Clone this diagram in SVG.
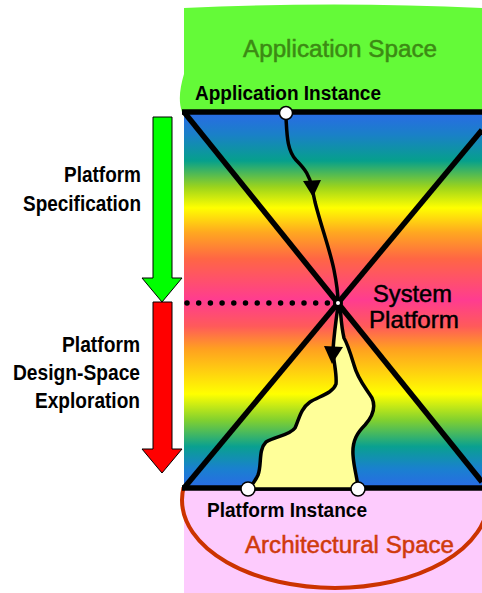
<svg xmlns="http://www.w3.org/2000/svg" width="482" height="593" viewBox="0 0 482 593">
  <style>
    .lbl { font-family: "Liberation Sans", Arial, sans-serif; }
    .b { font-weight: bold; fill: #000; }
    .med { stroke-width: 0.5; }
    .xline { stroke: #000; stroke-width: 5.5; fill: none; }
    .pt { fill: #fff; stroke: #000; stroke-width: 1.5; }
    .flow { stroke: #000; stroke-width: 3.5; stroke-linejoin: round; }
  </style>
  <defs>
    <linearGradient id="rainbow" gradientUnits="userSpaceOnUse" x1="0" y1="112" x2="0" y2="488">
      <stop offset="0" stop-color="#2a6ae6"/>
      <stop offset="0.06" stop-color="#1a80c8"/>
      <stop offset="0.13" stop-color="#06a08c"/>
      <stop offset="0.2" stop-color="#9cd41c"/>
      <stop offset="0.255" stop-color="#ffff00"/>
      <stop offset="0.32" stop-color="#ffa820"/>
      <stop offset="0.39" stop-color="#ff6644"/>
      <stop offset="0.5" stop-color="#ff3c90"/>
      <stop offset="0.57" stop-color="#ff5a5a"/>
      <stop offset="0.63" stop-color="#ffa020"/>
      <stop offset="0.75" stop-color="#ffff00"/>
      <stop offset="0.82" stop-color="#80d030"/>
      <stop offset="0.89" stop-color="#0aa090"/>
      <stop offset="0.95" stop-color="#1a80d0"/>
      <stop offset="1" stop-color="#2a6ae6"/>
    </linearGradient>
    <clipPath id="below">
      <rect x="0" y="487" width="482" height="106"/>
    </clipPath>
  </defs>

  <!-- architectural space (pink field with elliptical boundary) -->
  <g id="architectural-space">
    <rect x="184" y="488" width="298" height="105" fill="#fdcbfd"/>
    <ellipse cx="335" cy="500" rx="153" ry="88" fill="#fdcbfd" stroke="#cc3300" stroke-width="4" clip-path="url(#below)"/>
    <text class="lbl med" x="245" y="553" font-size="23" fill="#d03a0c" stroke="#d03a0c" textLength="209" lengthAdjust="spacingAndGlyphs">Architectural Space</text>
  </g>

  <!-- application space (green field) -->
  <g id="application-space">
    <path d="M182,112 C178,100 180,88 184,74 L184,8 Q335,1 482,8 L482,112 Z" fill="#64fa38"/>
    <text class="lbl med" x="243" y="57" font-size="23" fill="#3c8a14" stroke="#3c8a14" textLength="194" lengthAdjust="spacingAndGlyphs">Application Space</text>
  </g>

  <!-- design space hourglass -->
  <g id="system-platform">
    <rect x="184" y="112" width="298" height="376" fill="url(#rainbow)"/>
    <line class="xline" x1="182" y1="112" x2="482" y2="112"/>
    <line class="xline" x1="182" y1="488" x2="482" y2="488"/>
    <line class="xline" x1="184" y1="112" x2="482" y2="482"/>
    <line class="xline" x1="184" y1="488" x2="482" y2="130"/>
    <text class="lbl med" x="373" y="302" font-size="24" fill="#000" stroke="#000" textLength="79" lengthAdjust="spacingAndGlyphs">System</text>
    <text class="lbl med" x="369" y="328" font-size="24" fill="#000" stroke="#000" textLength="90" lengthAdjust="spacingAndGlyphs">Platform</text>
  </g>

  <!-- refinement arrows on the left -->
  <g id="platform-specification">
    <path d="M153,117 H172 V278 H182 L162,302 L142,278 H153 Z" fill="#00ff00" stroke="#000" stroke-width="1"/>
    <text class="lbl b" x="64" y="182" font-size="22" textLength="77" lengthAdjust="spacingAndGlyphs">Platform</text>
    <text class="lbl b" x="23" y="211" font-size="22" textLength="118" lengthAdjust="spacingAndGlyphs">Specification</text>
  </g>
  <g id="design-space-exploration">
    <path d="M153,302 H172 V449 H182 L162,473 L142,449 H153 Z" fill="#ff0000" stroke="#000" stroke-width="1"/>
    <text class="lbl b" x="62" y="352" font-size="22" textLength="78" lengthAdjust="spacingAndGlyphs">Platform</text>
    <text class="lbl b" x="13" y="380" font-size="22" textLength="127" lengthAdjust="spacingAndGlyphs">Design-Space</text>
    <text class="lbl b" x="35" y="408" font-size="22" textLength="105" lengthAdjust="spacingAndGlyphs">Exploration</text>
  </g>

  <!-- mapping paths -->
  <g id="connectors">
    <path d="M187,303 H329" stroke="#000" stroke-width="5.5" stroke-linecap="round" stroke-dasharray="0 11.7"/>
    <path class="flow" fill="none" d="M286,118 C287,135 287,150 296,160 C305,169 310,176 312,188 L315,202 C321,226 330,250 334,270 C337,285 338,295 338,302"/>
    <polygon points="303,181 321,180 313,197" fill="#000"/>
    <path class="flow" fill="#ffff99" d="M338,306 C336,320 334,335 333,350 C334,365 337,374 336,384 C333,393 320,396 310,402 C300,409 299,420 295,428 C289,436 275,436 266,442 C258,450 262,465 258,475 C255,482 251,486 248,489 L358,489 C358,480 354,470 353,455 C352,440 358,432 365,425 C372,417 376,407 372,398 C366,388 358,380 354,365 C350,352 348,345 344,338 C341,325 341,315 340,306 Z"/>
    <polygon points="324,346 343,347 332,364" fill="#000"/>
  </g>

  <g id="system-point">
    <circle cx="338" cy="303" r="3.5" fill="#fff" stroke="#000" stroke-width="3"/>
  </g>

  <g id="application-instance">
    <circle class="pt" cx="286" cy="113" r="6.5"/>
    <text class="lbl b" x="195" y="100" font-size="20" textLength="186" lengthAdjust="spacingAndGlyphs">Application Instance</text>
  </g>

  <g id="platform-instance">
    <circle class="pt" cx="248" cy="489" r="7"/>
    <circle class="pt" cx="358" cy="489" r="7"/>
    <text class="lbl b" x="207" y="517" font-size="21" textLength="160" lengthAdjust="spacingAndGlyphs">Platform Instance</text>
  </g>
</svg>
